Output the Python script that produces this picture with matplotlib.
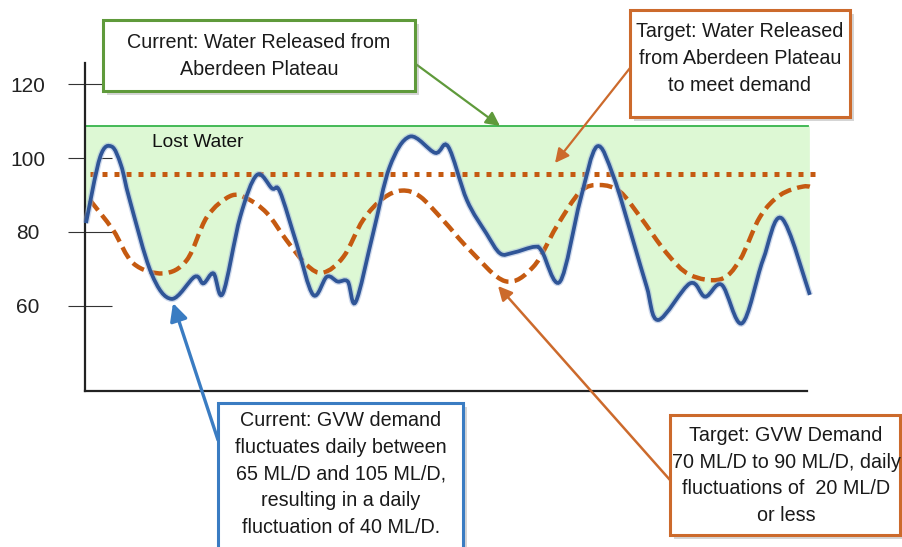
import numpy as np
import matplotlib
matplotlib.use("Agg")
import matplotlib.pyplot as plt
from matplotlib.path import Path
from matplotlib.patches import PathPatch, Rectangle, FancyArrowPatch

plt.rcParams['font.family'] = ['Liberation Sans', 'DejaVu Sans']

# ---------------- data ----------------
current_x = [0.14, 2.1, 3.7, 5.0, 6.2, 9.2, 12.0, 15.2, 16.4, 17.8, 19.1, 21.5, 23.8, 25.9, 27.0,
             29.3, 31.6, 33.5, 35.0, 36.4, 37.5, 39.9, 42.2, 45.0, 48.5, 50.3, 52.9, 55.6,
             57.5, 59.3, 62.3, 63.3, 65.8, 68.6, 70.9, 73.2, 75.9, 77.8, 79.4, 83.8, 85.9,
             88.2, 91.0, 93.9, 96.5, 100.4]
current_demand = [82.4, 100.3, 103.1, 98.0, 88.6, 68.8, 61.9, 67.9, 66.1, 68.8, 63.4, 84.1, 95.4,
                  91.8, 90.9, 76.9, 63.0, 67.9, 66.6, 66.6, 61.1, 79.6, 97.6, 105.8, 101.4,
                  103.1, 88.6, 79.6, 74.2, 74.4, 76.0, 74.7, 66.6, 88.6, 103.1, 95.0, 77.8,
                  65.2, 56.2, 66.1, 62.5, 65.7, 55.3, 72.4, 83.7, 63.0]

target_x = [0.7, 3.9, 6.7, 10.8, 14.1, 16.9, 20.1, 22.4, 25.2, 27.9, 30.7, 33.0, 35.8, 38.5,
            41.3, 43.9, 46.4, 49.6, 53.3, 58.2, 62.1, 65.3, 68.6, 71.3, 74.1, 76.9, 80.6,
            83.8, 88.0, 90.7, 93.5, 96.3, 99.5, 101.1]
target_demand = [88.6, 80.5, 71.5, 68.8, 72.4, 84.1, 89.7, 89.1, 85.1, 77.8, 71.1, 69.0, 73.3,
                 83.2, 89.1, 91.2, 89.6, 83.2, 75.1, 66.7, 70.6, 81.4, 90.9, 92.7, 90.9, 84.1,
                 74.2, 68.4, 67.2, 72.4, 84.1, 90.0, 92.3, 91.8]

current_release = 108.6
current_release_x = [0.2, 100.1]
target_release = 95.7
target_release_x = [0.7, 101.4]

y_ticks = [60, 80, 100, 120]
y_tick_labels = ["60", "80", "100", "120"]

# ---------------- colours ----------------
BLUE = '#2f5597'
ORANGE = '#c55a11'
GREEN_LINE = '#36b44a'
GREEN_FILL = '#ddf8d4'
GREEN_BOX = '#5f9a3b'
ORANGE_BOX = '#cc6a2c'
BLUE_BOX = '#3a7cc2'

W, H = 902, 547
fig = plt.figure(figsize=(W / 100, H / 100), dpi=100)
fig.patch.set_facecolor('white')

ax = fig.add_axes([85 / W, 1 - 391 / H, 736.4 / W, 328 / H])
ax.set_xlim(0, 102)
ax.set_ylim(37, 125.7)
ax.set_facecolor('none')
for s in ['top', 'right']:
    ax.spines[s].set_visible(False)
for s in ['left', 'bottom']:
    ax.spines[s].set_linewidth(1.6)
    ax.spines[s].set_color('#222222')
ax.spines['bottom'].set_bounds(0, 100)
ax.set_xticks([])
ax.set_yticks(y_ticks)
ax.set_yticklabels(y_tick_labels)
ax.tick_params(axis='y', length=0, pad=41, labelsize=15, labelcolor='#222222')
for lab in ax.get_yticklabels():
    lab.set_horizontalalignment('center')
ax.hlines(y_ticks, -17 / 736.4, 27 / 736.4, transform=ax.get_yaxis_transform(),
          color='#333333', lw=0.8, clip_on=False, zorder=1)


def smooth_path(xs, ys):
    P = np.column_stack([xs, ys]).astype(float)
    n = len(P)
    verts = [P[0]]
    codes = [Path.MOVETO]
    for i in range(n - 1):
        p0 = P[i - 1] if i > 0 else P[i]
        p1 = P[i]
        p2 = P[i + 1]
        p3 = P[i + 2] if i + 2 < n else P[i + 1]
        c1 = p1 + (p2 - p0) / 6.0
        c2 = p2 - (p3 - p1) / 6.0
        verts += [c1, c2, p2]
        codes += [Path.CURVE4] * 3
    return verts, codes


# lost-water fill: between release line and current demand
cv, cc = smooth_path(current_x, current_demand)
fill_verts = [(current_x[0], current_release)] + list(cv) + [(current_x[-1], current_release),
                                                             (current_x[0], current_release)]
fill_codes = [Path.MOVETO, Path.LINETO] + cc[1:] + [Path.LINETO, Path.CLOSEPOLY]
ax.add_patch(PathPatch(Path(fill_verts, fill_codes), facecolor=GREEN_FILL, edgecolor='none',
                       zorder=1))

ax.plot(current_release_x, [current_release] * 2, color=GREEN_LINE, lw=1.3, zorder=2)
ax.plot(target_release_x, [target_release] * 2, color=ORANGE, lw=3.6,
        linestyle=(0, (1.0, 1.4)), solid_capstyle='butt', dash_capstyle='butt',
        clip_on=False, zorder=3)

tv, tc = smooth_path(target_x, target_demand)
ax.add_patch(PathPatch(Path(tv, tc), fill=False, edgecolor=ORANGE, lw=3.2,
                       linestyle=(0, (2.9, 1.4)), capstyle='butt', clip_on=False, zorder=4))

ax.add_patch(PathPatch(Path(cv, cc), fill=False, edgecolor='#9fb4da', lw=4.6, alpha=0.5,
                       clip_on=False, zorder=5))
ax.add_patch(PathPatch(Path(cv, cc), fill=False, edgecolor=BLUE, lw=2.7, clip_on=False,
                       zorder=6))

ax.text(15.65, 104.3, "Lost Water", fontsize=13.8, ha='center', va='center',
        color='#111111', zorder=7)


# ---------------- annotation boxes ----------------
def fx(px):
    return px / W


def fy(py):
    return 1 - py / H


def box(x0, y0, x1, y1, ec):
    sh = Rectangle((fx(x0 + 4), fy(y1 + 4)), fx(x1 - x0), (y1 - y0) / H,
                   transform=fig.transFigure, facecolor='#888888', alpha=0.35,
                   edgecolor='none', zorder=9)
    fig.add_artist(sh)
    r = Rectangle((fx(x0), fy(y1)), fx(x1 - x0), (y1 - y0) / H, transform=fig.transFigure,
                  facecolor='white', edgecolor=ec, lw=2.2, zorder=10)
    fig.add_artist(r)


def label(cx, cy, s):
    fig.text(fx(cx), fy(cy), s, ha='center', va='center', fontsize=14.2,
             linespacing=1.53, color='#1a1a1a', zorder=11)


def arrow(p0, p1, color, lw, ms):
    a = FancyArrowPatch((fx(p0[0]), fy(p0[1])), (fx(p1[0]), fy(p1[1])),
                        transform=fig.transFigure,
                        arrowstyle='-|>,head_length=0.7,head_width=0.35',
                        mutation_scale=ms, lw=lw, color=color, shrinkA=0, shrinkB=0,
                        zorder=8)
    fig.add_artist(a)


arrow((413, 62), (500, 126), GREEN_BOX, 1.6, 12)
arrow((630, 68), (555, 163), ORANGE_BOX, 1.6, 12)
arrow((218, 440), (173, 303), BLUE_BOX, 2.4, 15)
arrow((670, 480), (498, 286), ORANGE_BOX, 1.8, 12)

box(103, 20, 415, 91, GREEN_BOX)
label(259, 56, "Current: Water Released from\nAberdeen Plateau")

box(630, 10, 850, 117, ORANGE_BOX)
label(740, 58.5, "Target: Water Released\nfrom Aberdeen Plateau\nto meet demand")

box(218, 403, 463, 552, BLUE_BOX)
label(341, 474, "Current: GVW demand\nfluctuates daily between\n65 ML/D and 105 ML/D,\n"
                "resulting in a daily\nfluctuation of 40 ML/D.")

box(670, 415, 900, 535, ORANGE_BOX)
label(786, 475.5, "Target: GVW Demand\n70 ML/D to 90 ML/D, daily\nfluctuations of  20 ML/D\nor less")

fig.savefig("out.png", dpi=100, facecolor='white')
